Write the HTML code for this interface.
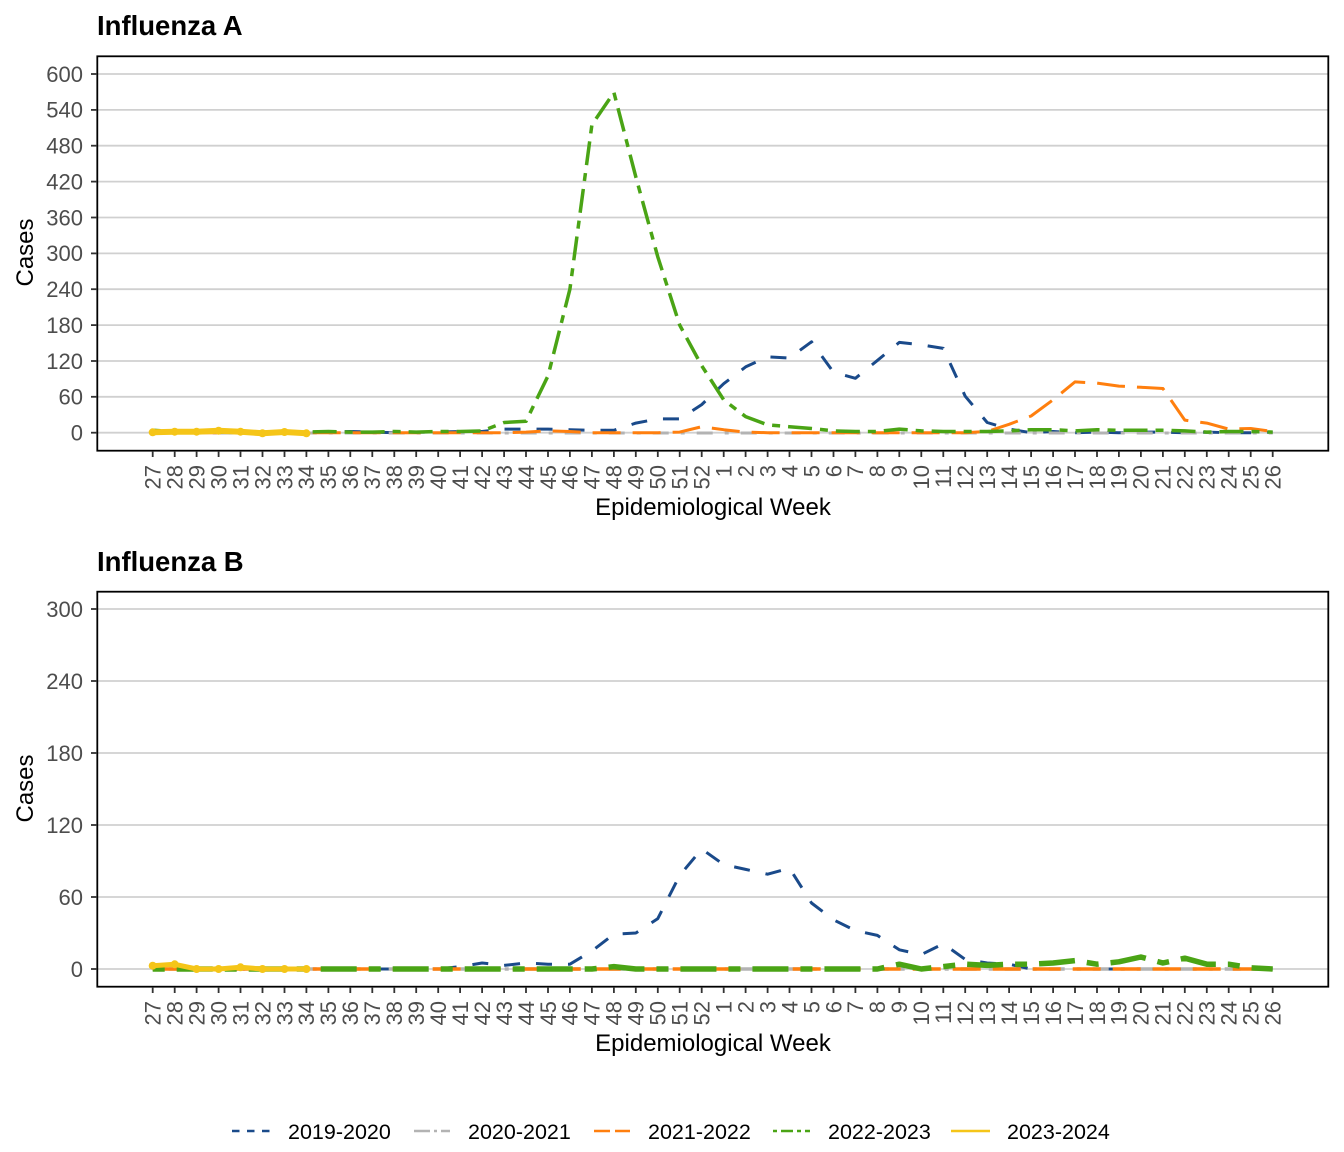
<!DOCTYPE html>
<html>
<head>
<meta charset="utf-8">
<style>
html,body{margin:0;padding:0;background:#fff;}
svg{display:block;}
text{font-family:"Liberation Sans",Arial,sans-serif;}
.tk{font-size:22px;fill:#4d4d4d;}
.ax{font-size:24px;fill:#000;}
.ttl{font-size:27.5px;font-weight:bold;fill:#000;}
.lg{font-size:21.5px;fill:#000;}
.grid{stroke:#d0d0d0;stroke-width:1.8;}
.tick{stroke:#333;stroke-width:1.8;}
.ser{fill:none;stroke-linecap:butt;stroke-linejoin:round;}
</style>
</head>
<body>
<svg width="1344" height="1152" viewBox="0 0 1344 1152" xmlns="http://www.w3.org/2000/svg">
<rect width="1344" height="1152" fill="#fff"/>

<!-- ================= PANEL A ================= -->
<text class="ttl" x="97" y="35">Influenza A</text>

<g class="grid">
<line x1="97" y1="74" x2="1329" y2="74"/>
<line x1="97" y1="109.9" x2="1329" y2="109.9"/>
<line x1="97" y1="145.7" x2="1329" y2="145.7"/>
<line x1="97" y1="181.6" x2="1329" y2="181.6"/>
<line x1="97" y1="217.5" x2="1329" y2="217.5"/>
<line x1="97" y1="253.4" x2="1329" y2="253.4"/>
<line x1="97" y1="289.2" x2="1329" y2="289.2"/>
<line x1="97" y1="325.1" x2="1329" y2="325.1"/>
<line x1="97" y1="361" x2="1329" y2="361"/>
<line x1="97" y1="396.8" x2="1329" y2="396.8"/>
<line x1="97" y1="432.7" x2="1329" y2="432.7"/>
</g>

<!-- series A -->
<polyline class="ser" stroke="#1a4a8a" stroke-width="3" stroke-dasharray="16 16" points="152.7,432.7 306.4,432.7 328.4,432.1 350.3,431.5 372.3,432.1 394.3,432.7 416.2,432.1 438.2,432.1 460.1,431.5 482.1,431.5 504.1,429.1 526.0,429.1 548.0,429.1 569.9,429.7 591.9,430.3 613.9,430.3 635.8,423.1 657.8,418.9 679.7,418.9 701.7,404.6 723.7,383.7 745.6,366.9 767.6,356.8 789.5,358.0 811.5,341.8 833.5,372.3 855.4,378.3 877.4,360.4 899.3,342.4 921.3,344.8 943.3,348.4 965.2,396.2 987.2,422.5 1009.1,429.1 1031.1,432.7 1053.1,431.5 1075.0,432.7 1097.0,432.1 1118.9,432.7 1140.9,432.1 1162.9,432.1 1184.8,432.7 1206.8,432.1 1228.7,432.7 1250.7,432.7 1272.7,432.1"/>
<polyline class="ser" stroke="#b3b3b3" stroke-width="3" stroke-dasharray="4 12 16 12" points="152.7,433 1272.7,433"/>
<polyline class="ser" stroke="#ff7f0e" stroke-width="3" stroke-dasharray="28 12" points="152.7,432.7 504.1,432.7 526.0,432.1 548.0,430.9 569.9,431.5 591.9,432.7 657.8,432.7 679.7,432.1 701.7,426.7 723.7,429.7 745.6,432.1 767.6,432.7 965.2,432.7 987.2,431.5 1009.1,424.3 1031.1,416.0 1053.1,399.8 1075.0,381.9 1097.0,383.1 1118.9,386.1 1140.9,387.3 1162.9,388.5 1184.8,420.1 1206.8,423.1 1228.7,429.1 1250.7,428.5 1272.7,431.5"/>
<polyline class="ser" stroke="#4aa415" stroke-width="3.5" stroke-dasharray="8 8 24 8" points="152.7,430.3 174.7,431.5 196.6,432.1 306.4,432.1 328.4,431.5 350.3,432.1 372.3,432.1 394.3,431.5 416.2,432.1 438.2,431.5 460.1,431.5 482.1,430.9 504.1,422.5 526.0,421.3 548.0,375.9 569.9,289.2 591.9,124.8 613.9,92.5 635.8,176.8 657.8,256.9 679.7,325.1 701.7,365.7 723.7,399.8 745.6,416.6 767.6,424.9 789.5,426.7 811.5,428.5 833.5,430.9 855.4,431.5 877.4,431.5 899.3,429.1 921.3,430.9 943.3,431.5 987.2,431.5 1009.1,430.9 1031.1,429.7 1053.1,429.7 1075.0,430.9 1097.0,429.7 1118.9,430.3 1162.9,430.3 1184.8,430.9 1206.8,432.1 1228.7,431.5 1250.7,431.5 1272.7,432.1"/>
<polyline class="ser" stroke="#f5c518" stroke-width="6" points="152.7,432.3 174.7,431.7 196.6,431.7 218.6,430.7 240.5,431.7 262.5,433.3 284.5,432 306.4,433.3"/>
<g fill="#f5c518">
<circle cx="152.7" cy="432.3" r="4"/><circle cx="174.7" cy="431.7" r="4"/><circle cx="196.6" cy="431.7" r="4"/><circle cx="218.6" cy="430.7" r="4"/><circle cx="240.5" cy="431.7" r="4"/><circle cx="262.5" cy="433.3" r="4"/><circle cx="284.5" cy="432" r="4"/><circle cx="306.4" cy="433.3" r="4"/>
</g>

<rect x="97.3" y="56.3" width="1231" height="394.4" fill="none" stroke="#000" stroke-width="1.8"/>

<!-- y ticks A -->
<g class="tick">
<line x1="91" y1="74" x2="97" y2="74"/><line x1="91" y1="109.9" x2="97" y2="109.9"/><line x1="91" y1="145.7" x2="97" y2="145.7"/><line x1="91" y1="181.6" x2="97" y2="181.6"/><line x1="91" y1="217.5" x2="97" y2="217.5"/><line x1="91" y1="253.4" x2="97" y2="253.4"/><line x1="91" y1="289.2" x2="97" y2="289.2"/><line x1="91" y1="325.1" x2="97" y2="325.1"/><line x1="91" y1="361" x2="97" y2="361"/><line x1="91" y1="396.8" x2="97" y2="396.8"/><line x1="91" y1="432.7" x2="97" y2="432.7"/>
</g>
<g class="tk" text-anchor="end">
<text x="83" y="81.8">600</text><text x="83" y="117.7">540</text><text x="83" y="153.5">480</text><text x="83" y="189.4">420</text><text x="83" y="225.3">360</text><text x="83" y="261.2">300</text><text x="83" y="297">240</text><text x="83" y="332.9">180</text><text x="83" y="368.8">120</text><text x="83" y="404.6">60</text><text x="83" y="440.5">0</text>
</g>

<!-- x ticks A -->
<g class="tick" stroke-width="1.8">
<path d="M152.7 451v6M174.7 451v6M196.6 451v6M218.6 451v6M240.5 451v6M262.5 451v6M284.5 451v6M306.4 451v6M328.4 451v6M350.3 451v6M372.3 451v6M394.3 451v6M416.2 451v6M438.2 451v6M460.1 451v6M482.1 451v6M504.1 451v6M526.0 451v6M548.0 451v6M569.9 451v6M591.9 451v6M613.9 451v6M635.8 451v6M657.8 451v6M679.7 451v6M701.7 451v6M723.7 451v6M745.6 451v6M767.6 451v6M789.5 451v6M811.5 451v6M833.5 451v6M855.4 451v6M877.4 451v6M899.3 451v6M921.3 451v6M943.3 451v6M965.2 451v6M987.2 451v6M1009.1 451v6M1031.1 451v6M1053.1 451v6M1075.0 451v6M1097.0 451v6M1118.9 451v6M1140.9 451v6M1162.9 451v6M1184.8 451v6M1206.8 451v6M1228.7 451v6M1250.7 451v6M1272.7 451v6"/>
</g>
<g class="tk" text-anchor="end">
<text transform="translate(160.5,465) rotate(-90)">27</text>
<text transform="translate(182.5,465) rotate(-90)">28</text>
<text transform="translate(204.4,465) rotate(-90)">29</text>
<text transform="translate(226.4,465) rotate(-90)">30</text>
<text transform="translate(248.3,465) rotate(-90)">31</text>
<text transform="translate(270.3,465) rotate(-90)">32</text>
<text transform="translate(292.3,465) rotate(-90)">33</text>
<text transform="translate(314.2,465) rotate(-90)">34</text>
<text transform="translate(336.2,465) rotate(-90)">35</text>
<text transform="translate(358.1,465) rotate(-90)">36</text>
<text transform="translate(380.1,465) rotate(-90)">37</text>
<text transform="translate(402.1,465) rotate(-90)">38</text>
<text transform="translate(424,465) rotate(-90)">39</text>
<text transform="translate(446,465) rotate(-90)">40</text>
<text transform="translate(467.9,465) rotate(-90)">41</text>
<text transform="translate(489.9,465) rotate(-90)">42</text>
<text transform="translate(511.9,465) rotate(-90)">43</text>
<text transform="translate(533.8,465) rotate(-90)">44</text>
<text transform="translate(555.8,465) rotate(-90)">45</text>
<text transform="translate(577.7,465) rotate(-90)">46</text>
<text transform="translate(599.7,465) rotate(-90)">47</text>
<text transform="translate(621.7,465) rotate(-90)">48</text>
<text transform="translate(643.6,465) rotate(-90)">49</text>
<text transform="translate(665.6,465) rotate(-90)">50</text>
<text transform="translate(687.5,465) rotate(-90)">51</text>
<text transform="translate(709.5,465) rotate(-90)">52</text>
<text transform="translate(731.5,465) rotate(-90)">1</text>
<text transform="translate(753.4,465) rotate(-90)">2</text>
<text transform="translate(775.4,465) rotate(-90)">3</text>
<text transform="translate(797.3,465) rotate(-90)">4</text>
<text transform="translate(819.3,465) rotate(-90)">5</text>
<text transform="translate(841.3,465) rotate(-90)">6</text>
<text transform="translate(863.2,465) rotate(-90)">7</text>
<text transform="translate(885.2,465) rotate(-90)">8</text>
<text transform="translate(907.1,465) rotate(-90)">9</text>
<text transform="translate(929.1,465) rotate(-90)">10</text>
<text transform="translate(951.1,465) rotate(-90)">11</text>
<text transform="translate(973,465) rotate(-90)">12</text>
<text transform="translate(995,465) rotate(-90)">13</text>
<text transform="translate(1016.9,465) rotate(-90)">14</text>
<text transform="translate(1038.9,465) rotate(-90)">15</text>
<text transform="translate(1060.9,465) rotate(-90)">16</text>
<text transform="translate(1082.8,465) rotate(-90)">17</text>
<text transform="translate(1104.8,465) rotate(-90)">18</text>
<text transform="translate(1126.7,465) rotate(-90)">19</text>
<text transform="translate(1148.7,465) rotate(-90)">20</text>
<text transform="translate(1170.7,465) rotate(-90)">21</text>
<text transform="translate(1192.6,465) rotate(-90)">22</text>
<text transform="translate(1214.6,465) rotate(-90)">23</text>
<text transform="translate(1236.5,465) rotate(-90)">24</text>
<text transform="translate(1258.5,465) rotate(-90)">25</text>
<text transform="translate(1280.5,465) rotate(-90)">26</text>
</g>

<text class="ax" x="713" y="515" text-anchor="middle">Epidemiological Week</text>
<text class="ax" transform="translate(33,252.5) rotate(-90)" text-anchor="middle">Cases</text>

<!-- ================= PANEL B ================= -->
<text class="ttl" x="97" y="571">Influenza B</text>

<g class="grid">
<line x1="97" y1="609" x2="1329" y2="609"/>
<line x1="97" y1="681" x2="1329" y2="681"/>
<line x1="97" y1="753" x2="1329" y2="753"/>
<line x1="97" y1="825" x2="1329" y2="825"/>
<line x1="97" y1="897" x2="1329" y2="897"/>
<line x1="97" y1="969" x2="1329" y2="969"/>
</g>

<polyline class="ser" stroke="#1a4a8a" stroke-width="3" stroke-dasharray="16 16" points="152.7,969 438.2,969 460.1,966.6 482.1,963 504.1,965.4 526.0,963 548.0,964.2 569.9,964.2 591.9,951 613.9,934.2 635.8,933 657.8,918.6 679.7,875.4 701.7,849 723.7,864.6 745.6,869.4 767.6,874.2 789.5,868.2 811.5,903 833.5,919.8 855.4,930.6 877.4,935.4 899.3,949.8 921.3,954.6 943.3,943.8 965.2,959.4 987.2,963 1009.1,964.2 1031.1,969 1272.7,969"/>
<polyline class="ser" stroke="#b3b3b3" stroke-width="3.5" stroke-dasharray="4 12 16 12" points="152.7,969 1272.7,969"/>
<polyline class="ser" stroke="#ff7f0e" stroke-width="3.5" stroke-dasharray="28 12" points="152.7,969 1272.7,969"/>
<polyline class="ser" stroke="#4aa415" stroke-width="5.5" stroke-dasharray="12 12 36 12" points="152.7,969 591.9,969 613.9,966.6 635.8,969 877.4,969 899.3,964.2 921.3,969 943.3,966.6 965.2,964.2 987.2,965.4 1009.1,964.2 1031.1,964.2 1053.1,963 1075.0,960.6 1097.0,964.2 1118.9,961.8 1140.9,957 1162.9,963 1184.8,958.2 1206.8,964.2 1228.7,964.2 1250.7,967.8 1272.7,969"/>
<polyline class="ser" stroke="#f5c518" stroke-width="5" points="152.7,965.7 174.7,964.3 196.6,969 218.6,969 240.5,967.3 262.5,969 284.5,969 306.4,969"/>
<g fill="#f5c518">
<circle cx="152.7" cy="965.7" r="4"/><circle cx="174.7" cy="964.3" r="4"/><circle cx="196.6" cy="969" r="4"/><circle cx="218.6" cy="969" r="4"/><circle cx="240.5" cy="967.3" r="4"/><circle cx="262.5" cy="969" r="4"/><circle cx="284.5" cy="969" r="4"/><circle cx="306.4" cy="969" r="4"/>
</g>

<rect x="97.3" y="591.7" width="1231" height="395" fill="none" stroke="#000" stroke-width="1.8"/>

<g class="tick">
<line x1="91" y1="609" x2="97" y2="609"/><line x1="91" y1="681" x2="97" y2="681"/><line x1="91" y1="753" x2="97" y2="753"/><line x1="91" y1="825" x2="97" y2="825"/><line x1="91" y1="897" x2="97" y2="897"/><line x1="91" y1="969" x2="97" y2="969"/>
</g>
<g class="tk" text-anchor="end">
<text x="83" y="616.8">300</text><text x="83" y="688.8">240</text><text x="83" y="760.8">180</text><text x="83" y="832.8">120</text><text x="83" y="904.8">60</text><text x="83" y="976.8">0</text>
</g>

<g class="tick" stroke-width="1.8">
<path d="M152.7 987v6M174.7 987v6M196.6 987v6M218.6 987v6M240.5 987v6M262.5 987v6M284.5 987v6M306.4 987v6M328.4 987v6M350.3 987v6M372.3 987v6M394.3 987v6M416.2 987v6M438.2 987v6M460.1 987v6M482.1 987v6M504.1 987v6M526.0 987v6M548.0 987v6M569.9 987v6M591.9 987v6M613.9 987v6M635.8 987v6M657.8 987v6M679.7 987v6M701.7 987v6M723.7 987v6M745.6 987v6M767.6 987v6M789.5 987v6M811.5 987v6M833.5 987v6M855.4 987v6M877.4 987v6M899.3 987v6M921.3 987v6M943.3 987v6M965.2 987v6M987.2 987v6M1009.1 987v6M1031.1 987v6M1053.1 987v6M1075.0 987v6M1097.0 987v6M1118.9 987v6M1140.9 987v6M1162.9 987v6M1184.8 987v6M1206.8 987v6M1228.7 987v6M1250.7 987v6M1272.7 987v6"/>
</g>
<g class="tk" text-anchor="end">
<text transform="translate(160.5,1001) rotate(-90)">27</text>
<text transform="translate(182.5,1001) rotate(-90)">28</text>
<text transform="translate(204.4,1001) rotate(-90)">29</text>
<text transform="translate(226.4,1001) rotate(-90)">30</text>
<text transform="translate(248.3,1001) rotate(-90)">31</text>
<text transform="translate(270.3,1001) rotate(-90)">32</text>
<text transform="translate(292.3,1001) rotate(-90)">33</text>
<text transform="translate(314.2,1001) rotate(-90)">34</text>
<text transform="translate(336.2,1001) rotate(-90)">35</text>
<text transform="translate(358.1,1001) rotate(-90)">36</text>
<text transform="translate(380.1,1001) rotate(-90)">37</text>
<text transform="translate(402.1,1001) rotate(-90)">38</text>
<text transform="translate(424,1001) rotate(-90)">39</text>
<text transform="translate(446,1001) rotate(-90)">40</text>
<text transform="translate(467.9,1001) rotate(-90)">41</text>
<text transform="translate(489.9,1001) rotate(-90)">42</text>
<text transform="translate(511.9,1001) rotate(-90)">43</text>
<text transform="translate(533.8,1001) rotate(-90)">44</text>
<text transform="translate(555.8,1001) rotate(-90)">45</text>
<text transform="translate(577.7,1001) rotate(-90)">46</text>
<text transform="translate(599.7,1001) rotate(-90)">47</text>
<text transform="translate(621.7,1001) rotate(-90)">48</text>
<text transform="translate(643.6,1001) rotate(-90)">49</text>
<text transform="translate(665.6,1001) rotate(-90)">50</text>
<text transform="translate(687.5,1001) rotate(-90)">51</text>
<text transform="translate(709.5,1001) rotate(-90)">52</text>
<text transform="translate(731.5,1001) rotate(-90)">1</text>
<text transform="translate(753.4,1001) rotate(-90)">2</text>
<text transform="translate(775.4,1001) rotate(-90)">3</text>
<text transform="translate(797.3,1001) rotate(-90)">4</text>
<text transform="translate(819.3,1001) rotate(-90)">5</text>
<text transform="translate(841.3,1001) rotate(-90)">6</text>
<text transform="translate(863.2,1001) rotate(-90)">7</text>
<text transform="translate(885.2,1001) rotate(-90)">8</text>
<text transform="translate(907.1,1001) rotate(-90)">9</text>
<text transform="translate(929.1,1001) rotate(-90)">10</text>
<text transform="translate(951.1,1001) rotate(-90)">11</text>
<text transform="translate(973,1001) rotate(-90)">12</text>
<text transform="translate(995,1001) rotate(-90)">13</text>
<text transform="translate(1016.9,1001) rotate(-90)">14</text>
<text transform="translate(1038.9,1001) rotate(-90)">15</text>
<text transform="translate(1060.9,1001) rotate(-90)">16</text>
<text transform="translate(1082.8,1001) rotate(-90)">17</text>
<text transform="translate(1104.8,1001) rotate(-90)">18</text>
<text transform="translate(1126.7,1001) rotate(-90)">19</text>
<text transform="translate(1148.7,1001) rotate(-90)">20</text>
<text transform="translate(1170.7,1001) rotate(-90)">21</text>
<text transform="translate(1192.6,1001) rotate(-90)">22</text>
<text transform="translate(1214.6,1001) rotate(-90)">23</text>
<text transform="translate(1236.5,1001) rotate(-90)">24</text>
<text transform="translate(1258.5,1001) rotate(-90)">25</text>
<text transform="translate(1280.5,1001) rotate(-90)">26</text>
</g>

<text class="ax" x="713" y="1051" text-anchor="middle">Epidemiological Week</text>
<text class="ax" transform="translate(33,788.5) rotate(-90)" text-anchor="middle">Cases</text>

<!-- ================= LEGEND ================= -->
<g stroke-width="2.5" fill="none">
<line x1="232" y1="1131" x2="270" y2="1131" stroke="#1a4a8a" stroke-dasharray="7.5 7.5"/>
<path d="M414 1131h16M434 1131h3M441 1131h9" stroke="#b3b3b3"/>
<path d="M594 1131h16M615 1131h15" stroke="#ff7f0e"/>
<path d="M773 1131h4M781 1131h12M797 1131h4M805 1131h5" stroke="#4aa415"/>
<line x1="951" y1="1131" x2="990" y2="1131" stroke="#f5c518"/>
</g>
<g class="lg">
<text x="288" y="1139">2019-2020</text>
<text x="468" y="1139">2020-2021</text>
<text x="648" y="1139">2021-2022</text>
<text x="828" y="1139">2022-2023</text>
<text x="1007" y="1139">2023-2024</text>
</g>
</svg>
</body>
</html>
